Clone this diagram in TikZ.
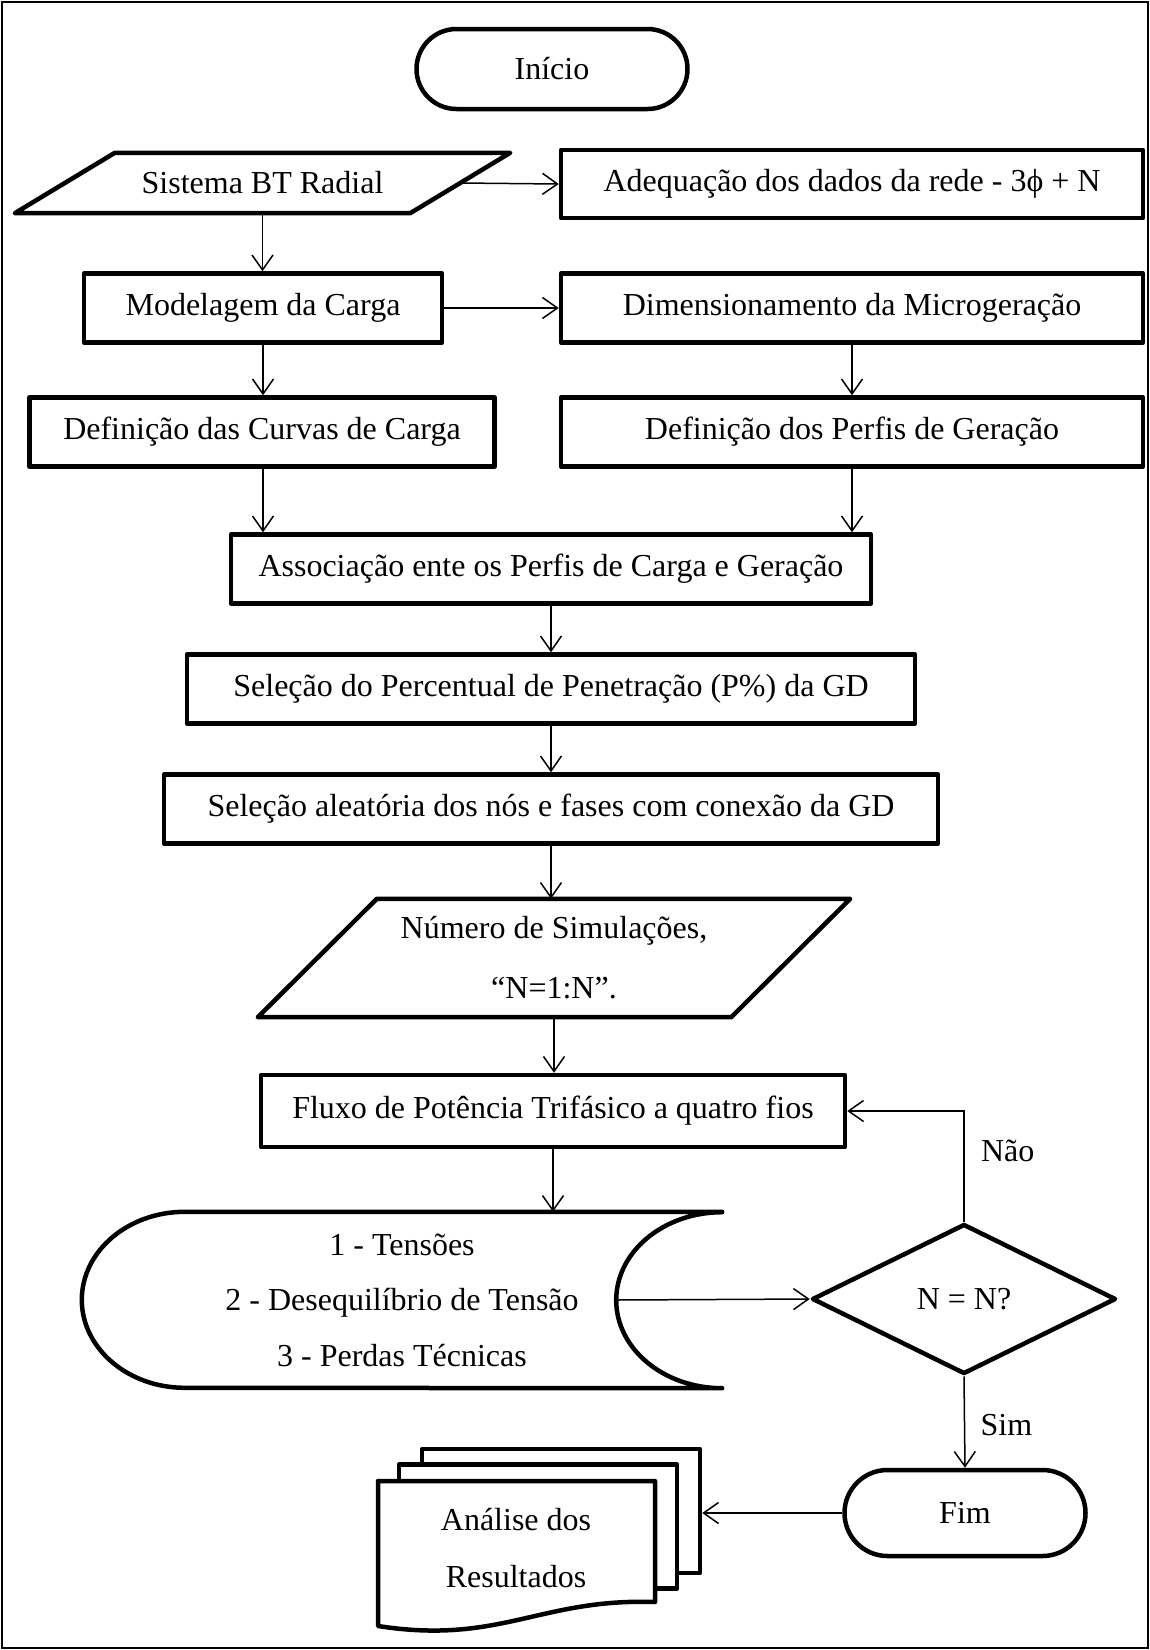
\documentclass[tikz,border=0pt]{standalone}
\usepackage{fontspec}
\setmainfont{Liberation Serif}
\usepackage{tikz}
\usetikzlibrary{shapes, arrows.meta}

\begin{document}
\begin{tikzpicture}[x=1pt, y=-1pt,
        font=\fontsize{32}{38}\selectfont,
        >={Straight Barb[length=15pt, width=21pt]},
        box/.style={draw, line width=4.5pt, line join=round, rectangle, minimum height=69pt, inner sep=0pt},
        term/.style={draw, line width=4.5pt, rounded rectangle, inner sep=0pt},
        io/.style={inner sep=0pt},
        outline/.style={line width=4.5pt, line join=round},
        choice/.style={draw, line width=4.5pt, line join=round, diamond, inner sep=0pt},
        docpage/.style={draw, line width=4.5pt, line join=round, fill=white, minimum width=278pt, minimum height=124pt},
        link/.style={->, line width=1.5pt}]
        \useasboundingbox (0,0) rectangle (1150,1650);
        \draw[line width=1.5pt] (2,2) rectangle (1148,1648);

        \node[term, minimum width=271pt, minimum height=80pt] (ini) at (552,69) {Início};
        \node[io, minimum width=495pt, minimum height=60pt] (sis) at (262.5,183) {Sistema BT Radial};
        \draw[outline] ([xshift=100pt]sis.north west) -- (sis.north east) -- ([xshift=-100pt]sis.south east) -- (sis.south west) -- cycle;
        \node[box, minimum width=582pt, minimum height=68pt] (adq) at (852,184) {Adequação dos dados da rede - 3ϕ + N};
        \node[box, minimum width=358pt] (mod) at (263,308) {Modelagem da Carga};
        \node[box, minimum width=582pt] (dim) at (852,308) {Dimensionamento da Microgeração};
        \node[box, minimum width=465pt] (cur) at (262,432) {Definição das Curvas de Carga};
        \node[box, minimum width=582pt] (per) at (852,432) {Definição dos Perfis de Geração};
        \node[box, minimum width=640pt] (ass) at (551,569) {Associação ente os Perfis de Carga e Geração};
        \node[box, minimum width=728pt] (pen) at (551,689) {Seleção do Percentual de Penetração (P\%) da GD};
        \node[box, minimum width=774pt] (ale) at (551,809) {Seleção aleatória dos nós e fases com conexão da GD};
        \node[io, minimum width=592pt, minimum height=118pt, align=center, font=\fontsize{32}{60}\selectfont] (num) at (554,958) {Número de Simulações,\\“N=1:N”.};
        \draw[outline] ([xshift=119pt]num.north west) -- (num.north east) -- ([xshift=-119pt]num.south east) -- (num.south west) -- cycle;
        \node[box, minimum width=584pt, minimum height=72pt] (flx) at (553,1111) {Fluxo de Potência Trifásico a quatro fios};

        % saida em tela
        \node[minimum width=640pt, minimum height=176pt, inner sep=0pt, align=center, font=\fontsize{32}{55.5}\selectfont] (res) at (402,1300) {1 - Tensões\\2 - Desequilíbrio de Tensão\\3 - Perdas Técnicas};
        \draw[outline] (res.north east) -- ([xshift=103pt]res.north west)
            arc[start angle=90, end angle=270, x radius=103pt, y radius=88pt] -- (res.south east)
            arc[start angle=270, end angle=90, x radius=106pt, y radius=88pt] -- cycle;
        \coordinate (resout) at ([xshift=-106pt]res.east);

        \node[choice, minimum width=304pt, minimum height=150pt] (dec) at (964,1299) {N = N?};
        \node[term, minimum width=241pt, minimum height=86pt] (fim) at (965,1513) {Fim};

        % documentos
        \node[docpage] (pg3) at (561,1511) {};
        \node[docpage] (pg2) at (538,1526.5) {};
        \draw[outline, fill=white] (378,1481) -- (655,1481) -- (655,1602)
            .. controls (540,1598) and (500,1645) .. (378,1626) -- cycle;
        \node[align=center, font=\fontsize{32}{57}\selectfont] (ana) at (516,1548) {Análise dos\\Resultados};

        \draw[link] ([xshift=-50pt]sis.east) -- (adq.west);
        \draw[link] (sis.south) -- (sis.south |- mod.north);
        \draw[link] (mod.east) -- (dim.west);
        \draw[link] (mod.south) -- (mod.south |- cur.north);
        \draw[link] (dim.south) -- (per.north);
        \draw[link] (mod.south |- cur.south) -- (mod.south |- ass.north);
        \draw[link] (per.south) -- (per.south |- ass.north);
        \draw[link] (ass.south) -- (pen.north);
        \draw[link] (pen.south) -- (ale.north);
        \draw[link] (ale.south) -- (ale.south |- num.north);
        \draw[link] (num.south) -- (num.south |- flx.north);
        \draw[link] (flx.south) -- (flx.south |- res.north);
        \draw[link] (resout) -- (dec.west);
        \draw[link] (dec.north) |- node[pos=0.32, right, xshift=13pt] {Não} (flx.east);
        \draw[link] (dec.south) -- node[pos=0.53, right, xshift=12pt] {Sim} (fim.north);
        \draw[link] (fim.west) -- (fim.west -| pg3.east);
\end{tikzpicture}
\end{document}
